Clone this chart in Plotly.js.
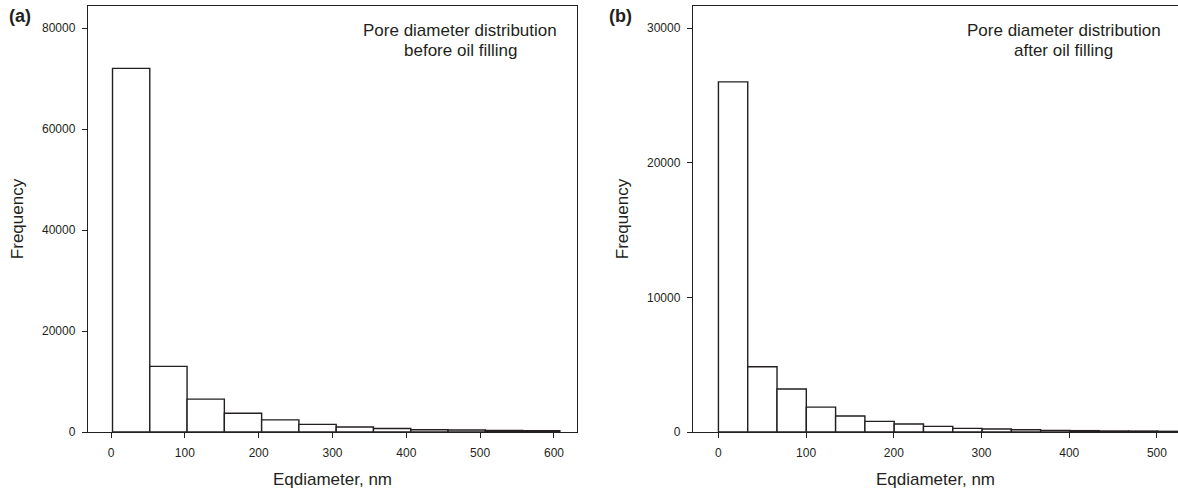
<!DOCTYPE html>
<html>
<head>
<meta charset="utf-8">
<script src="https://cdn.plot.ly/plotly-3.0.1.min.js"></script>
<style>html,body{margin:0;padding:0;background:#fff;}#chart{width:1178px;height:494px;}</style>
</head>
<body>
<div id="chart"></div>
<script>
// Panel (a): before oil filling
const binLeftA = [2, 52.5, 103, 153.5, 204, 254.5, 305, 355.5, 406, 456.5, 507, 557.5];
const binWidthA = 50.5;
const countsA = [72000, 13000, 6500, 3700, 2400, 1500, 1000, 700, 450, 400, 300, 250];

// Panel (b): after oil filling
const binLeftB = [0, 33.4, 66.8, 100.2, 133.6, 167, 200.4, 233.8, 267.2, 300.6, 334, 367.4, 400.8, 434.2, 467.6, 501];
const binWidthB = 33.4;
const countsB = [26000, 4850, 3190, 1850, 1190, 790, 590, 420, 270, 220, 170, 120, 100, 75, 70, 50];

const xTicksA = [0, 100, 200, 300, 400, 500, 600];
const yTicksA = [0, 20000, 40000, 60000, 80000];
const xTicksB = [0, 100, 200, 300, 400, 500];
const yTicksB = [0, 10000, 20000, 30000];

const noteA = ['Pore diameter distribution', 'before oil filling'];
const noteB = ['Pore diameter distribution', 'after oil filling'];

const lineCol = '#231f20';
const textCol = '#231f20';
const fontFam = 'Liberation Sans, Arial, sans-serif';

function bars(left, w, counts, xa, ya) {
  return {
    type: 'bar',
    x: left.map(v => v + w / 2),
    y: counts,
    width: left.map(() => w),
    marker: {color: '#ffffff', line: {color: lineCol, width: 1.4}},
    xaxis: xa, yaxis: ya,
    hoverinfo: 'x+y',
    showlegend: false
  };
}

const data = [
  bars(binLeftA, binWidthA, countsA, 'x', 'y'),
  bars(binLeftB, binWidthB, countsB, 'x2', 'y2')
];

const axisCommon = {
  showgrid: false, zeroline: false, showline: true, linecolor: lineCol, linewidth: 1.2,
  ticks: 'outside', ticklen: 5, tickwidth: 1, tickcolor: lineCol,
  ticklabelstandoff: 4,
  tickfont: {family: fontFam, size: 12, color: textCol},
  tickmode: 'array'
};
const titleFont = {family: fontFam, size: 17, color: textCol};
const noteFont = {family: fontFam, size: 17, color: textCol};

function note(xref, yref, x, lines) {
  return lines.map((t, i) => ({
    xref: xref, yref: yref, x: x, y: i === 0 ? (432 - 30) / 426 : (432 - 50) / 426,
    xanchor: 'center', yanchor: 'middle', text: t, showarrow: false, font: noteFont
  }));
}

const layout = {
  width: 1178, height: 494,
  margin: {l: 0, r: 0, t: 6, b: 62},
  paper_bgcolor: '#ffffff', plot_bgcolor: '#ffffff',
  bargap: 0,
  xaxis: Object.assign({}, axisCommon, {
    domain: [88/1178, 577/1178], range: [-31.2, 631.2], anchor: 'y', mirror: true,
    tickvals: xTicksA, ticktext: xTicksA.map(String),
    title: {text: 'Eqdiameter, nm', font: titleFont, standoff: 14}
  }),
  yaxis: Object.assign({}, axisCommon, {
    domain: [0, 1], range: [0, 84356], anchor: 'x', mirror: true,
    tickvals: yTicksA, ticktext: yTicksA.map(String),
    title: {text: 'Frequency', font: titleFont, standoff: 14}
  }),
  xaxis2: Object.assign({}, axisCommon, {
    domain: [693/1178, 1], range: [-29, 524], anchor: 'y2', mirror: true,
    tickvals: xTicksB, ticktext: xTicksB.map(String),
    title: {text: 'Eqdiameter, nm', font: titleFont, standoff: 14}
  }),
  yaxis2: Object.assign({}, axisCommon, {
    domain: [0, 1], range: [0, 31634], anchor: 'x2', mirror: false,
    tickvals: yTicksB, ticktext: yTicksB.map(String),
    title: {text: 'Frequency', font: titleFont, standoff: 14}
  }),
  annotations: [
    {xref: 'paper', yref: 'paper', x: 7/1178, y: (432 - 16) / 426, yanchor: 'middle', xanchor: 'left',
     text: '<b>(a)</b>', showarrow: false, font: {family: fontFam, size: 18, color: textCol}},
    {xref: 'paper', yref: 'paper', x: 607/1178, y: (432 - 16) / 426, yanchor: 'middle', xanchor: 'left',
     text: '<b>(b)</b>', showarrow: false, font: {family: fontFam, size: 18, color: textCol}}
  ].concat(note('x domain', 'paper', 0.761, noteA), note('x2 domain', 'paper', 0.764, noteB))
};

Plotly.newPlot('chart', data, layout, {displayModeBar: false, staticPlot: true});
</script>
</body>
</html>
